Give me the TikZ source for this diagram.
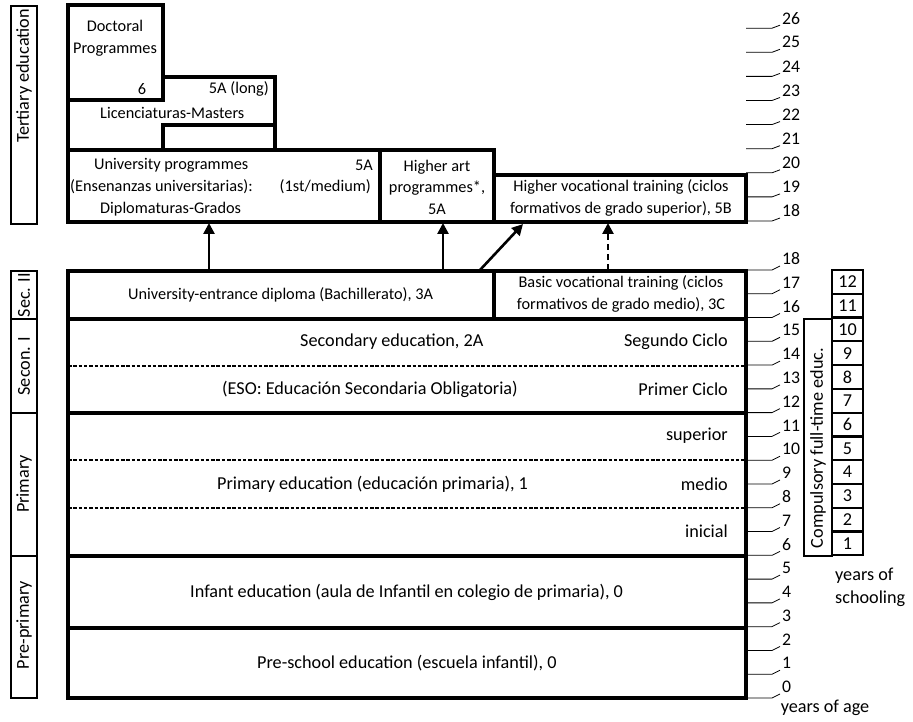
\documentclass[tikz,border=0pt]{standalone}
\usepackage{fontspec}
\setmainfont{Carlito}
\usetikzlibrary{arrows.meta}
\begin{document}
\begin{tikzpicture}[x=1pt,y=-1pt,
  thickbox/.style={line width=3.8pt},
  lblbox/.style={line width=2.2pt},
  dashsep/.style={line width=1.8pt, dash pattern=on 3.5pt off 1.8pt},
  txt/.style={font=\fontsize{16.3}{21.5}\selectfont, inner sep=0pt, align=center},
  big/.style={font=\fontsize{18.2}{22}\selectfont},
  rtxt/.style={txt, anchor=east},
  ltxt/.style={txt, anchor=west},
  vtxt/.style={txt, big, rotate=90},
  agetick/.style={line width=0.8pt},
  agelbl/.style={font=\fontsize{17.7}{18}\selectfont, inner sep=0pt, anchor=west},
  arr/.style={line width=2.6pt, -{Triangle[length=11pt,width=11pt]}},
  dasharr/.style={arr, dash pattern=on 6pt off 4pt},
]
\useasboundingbox (0,0) rectangle (913,722);

% ---------- upper block (tertiary) ----------
\draw[thickbox] (68,5) rectangle (163,100);
\draw[thickbox] (68,98) -- (68,150);
\draw[thickbox] (163,100) -- (163,77) -- (275,77) -- (275,150);
\draw[thickbox] (163,150) -- (163,125) -- (275,125);
\draw[thickbox] (68,150) rectangle (380,222);
\draw[thickbox] (380,150) rectangle (494,222);
\draw[thickbox] (494,175) rectangle (746,222);

\node[txt] (doc) at (115,38) {Doctoral\\Programmes};
\node[txt] (six) at (142,89) {6};
\node[rtxt] (fivealong) at (269,89) {5A (long)};
\node[ltxt] (lic) at (100,113) {Licenciaturas-Masters};
\node[ltxt] (univ1) at (94,165) {University programmes};
\node[ltxt] (univ2) at (70,187) {(Ensenanzas universitarias):};
\node[rtxt] (univ3) at (371,187) {(1st/medium)};
\node[ltxt] (univ4) at (100,209) {Diplomaturas-Grados};
\node[rtxt] (univ5) at (373,165) {5A};
\node[txt] (art) at (437,187) {Higher art\\programmes*,\\5A};
\node[txt] (hvoc) at (621,198) {Higher vocational training (ciclos\\formativos de grado superior), 5B};

% ---------- lower block ----------
\draw[thickbox] (68,271) rectangle (746,698);
\foreach \yy in {319,413,556,628} \draw[thickbox] (68,\yy) -- (746,\yy);
\draw[thickbox] (494,271) -- (494,319);
\foreach \yy in {366,460,508} \draw[dashsep] (68,\yy) -- (744,\yy);

\node[ltxt] (bach) at (128,295) {University-entrance diploma (Bachillerato), 3A};
\node[txt] (bvoc) at (621,294) {Basic vocational training (ciclos\\formativos de grado medio), 3C};
\node[ltxt,big] (sec) at (300,342) {Secondary education, 2A};
\node[rtxt,big] (seg) at (728,342) {Segundo Ciclo};
\node[ltxt,big] (eso) at (222,389) {(ESO: Educación Secondaria Obligatoria)};
\node[rtxt,big] (prim1) at (728,389) {Primer Ciclo};
\node[rtxt,big] (sup) at (728,436) {superior};
\node[ltxt,big] (prim) at (217,484) {Primary education (educación primaria), 1};
\node[rtxt,big] (med) at (728,484) {medio};
\node[rtxt,big] (ini) at (728,531) {inicial};
\node[ltxt,big] (inf) at (190,592) {Infant education (aula de Infantil en colegio de primaria), 0};
\node[ltxt,big] (pre) at (257,663) {Pre-school education (escuela infantil), 0};

% ---------- arrows ----------
\coordinate (a1s) at (209,270); \coordinate (a1e) at (209,223);
\coordinate (a2s) at (443,270); \coordinate (a2e) at (443,223);
\coordinate (a3s) at (480,270); \coordinate (a3e) at (523,224);
\coordinate (a4s) at (608,270); \coordinate (a4e) at (608,223);
\draw[arr] (a1s) -- (a1e);
\draw[arr] (a2s) -- (a2e);
\draw[arr] (a3s) -- (a3e);
\draw[dasharr] (a4s) -- (a4e);

% ---------- left labels ----------
\draw[lblbox] (11,6) rectangle (37,224);
\node[vtxt] (lt) at (24,76) {Tertiary education};
\draw[lblbox] (11,271) rectangle (37,319);
\node[vtxt] (ls2) at (24,295) {Sec. II};
\draw[lblbox] (11,319) rectangle (37,413);
\node[vtxt] (ls1) at (24,366) {Secon. I};
\draw[lblbox] (11,413) rectangle (37,556);
\node[vtxt] (lp) at (24,484) {Primary};
\draw[lblbox] (11,556) rectangle (37,698);
\node[vtxt] (lpp) at (24,625) {Pre-primary};

% ---------- age ticks ----------
\foreach \a in {0,...,18} {
  \pgfmathsetmacro\yy{698-23.78*\a}
  \draw[agetick] (746,\yy) -- (772,\yy) -- (780,\yy-4);
  \node[agelbl] (ageL\a) at (782,\yy-11) {\a};
}
\foreach \a in {18,...,26} {
  \pgfmathsetmacro\yy{221-24.1*(\a-18)}
  \draw[agetick] (746,\yy) -- (772,\yy) -- (780,\yy-3);
  \node[agelbl] (ageU\a) at (782,\yy-10) {\a};
}
\node[txt,big] (yoa) at (825,708) {years of age};

% ---------- compulsory ----------
\draw[lblbox] (804,319) rectangle (832,556);
\node[vtxt] (comp) at (818,448) {Compulsory full-time educ.};
\foreach \k in {1,...,12} {
  \pgfmathsetmacro\yb{698-23.78*(5+\k)}
  \pgfmathsetmacro\yt{698-23.78*(6+\k)}
  \draw[lblbox] (832,\yb) rectangle (863,\yt);
  \node[txt,big] (cell\k) at (847.5,{(\yb+\yt)/2}) {\k};
}
\node[ltxt,big] (yos1) at (835,576) {years of};
\node[ltxt,big] (yos2) at (835,599) {schooling};
\end{tikzpicture}
\end{document}
